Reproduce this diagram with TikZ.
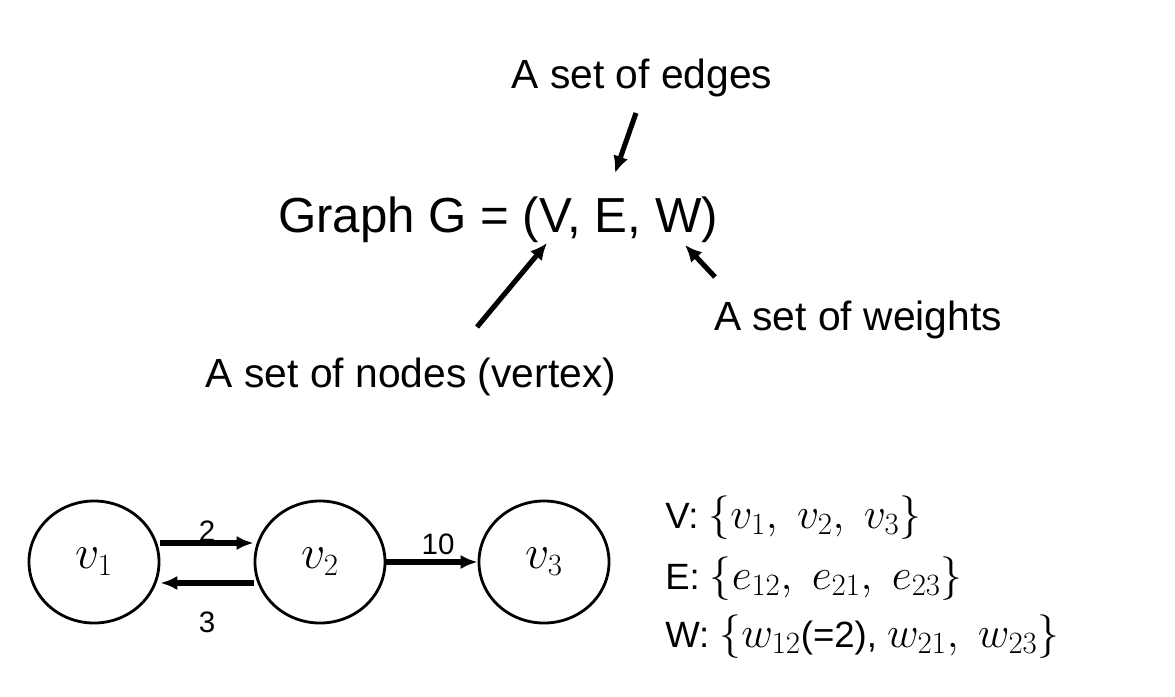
\documentclass[tikz,border=0pt]{standalone}
\usepackage{fix-cm}
\usepackage[no-math]{fontspec}
\setmainfont{Liberation Sans}
\usetikzlibrary{arrows.meta,shapes.geometric}
\newcommand{\low}[1]{\mbox{\fontsize{22}{22}\selectfont$\mathrm{#1}$}}
\newcommand{\setmath}[1]{{\fontsize{31}{36}\selectfont$#1$}}

\begin{document}
\begin{tikzpicture}[x=0.025cm,y=-0.025cm,
vertex/.style={black,draw,ellipse,line width=2pt,minimum width=3.25cm,minimum height=3.05cm,inner sep=0pt,font=\fontsize{34}{40}\selectfont},
pointer/.style={black,line width=3.6pt,-{Latex[length=12pt,width=11pt]}},
edge/.style={black,line width=3.8pt,-{Latex[length=12pt,width=10pt]}},
caption/.style={font=\fontsize{29}{34}\selectfont,anchor=base,inner sep=0pt},
weight/.style={font=\fontsize{21}{25}\selectfont,inner sep=0pt},
setline/.style={font=\fontsize{26}{31}\selectfont,anchor=base west,inner sep=0pt}]

\useasboundingbox (0,0) rectangle (1175,696);

\node [caption] (edges) at (642,88) {A set of edges};
\node [caption,font=\fontsize{35}{42}\selectfont] (graph) at (498,232) {Graph G = (V, E, W)};
\node [caption] (weights) at (858,330) {A set of weights};
\node [caption] (nodes) at (411,387) {A set of nodes (vertex)};

\coordinate (eTail) at (636,113);
\coordinate (eTip) at (615,173);
\coordinate (vTail) at (477,327);
\coordinate (vTip) at (547,243);
\coordinate (wTail) at (715,277);
\coordinate (wTip) at (685,245);
\draw[pointer] (eTail) -- (eTip);
\draw[pointer] (vTail) -- (vTip);
\draw[pointer] (wTail) -- (wTip);

	\def \rowy {562}
	\node [vertex] (v1) at (94,\rowy) {$v_{\low{1}}$};
	\node [vertex] (v2) at (320,\rowy) {$v_{\low{2}}$};
	\node [vertex] (v3) at (544,\rowy) {$v_{\low{3}}$};

	\draw[edge] ([yshift=0.475cm]v1.east) -- ([yshift=0.475cm]v2.west);
	\draw[edge] ([yshift=-0.525cm]v2.west) -- ([yshift=-0.525cm]v1.east);
	\draw[edge] (v2) -- (v3);
\node [weight] (w12) at (207,531) {2};
\node [weight] (w21) at (207,622) {3};
\node [weight] (w23) at (438,544) {10};

\node [setline] (vset) at (665,528) {V: \setmath{\{v_{\low{1}},\ v_{\low{2}},\ v_{\low{3}}\}}};
\node [setline] (eset) at (665,589) {E: \setmath{\{e_{\low{12}},\ e_{\low{21}},\ e_{\low{23}}\}}};
\node [setline] (wset) at (665,647) {W: \setmath{\{w_{\low{12}}}(=2), \setmath{w_{\low{21}},\ w_{\low{23}}\}}};
\end{tikzpicture}
\end{document}
